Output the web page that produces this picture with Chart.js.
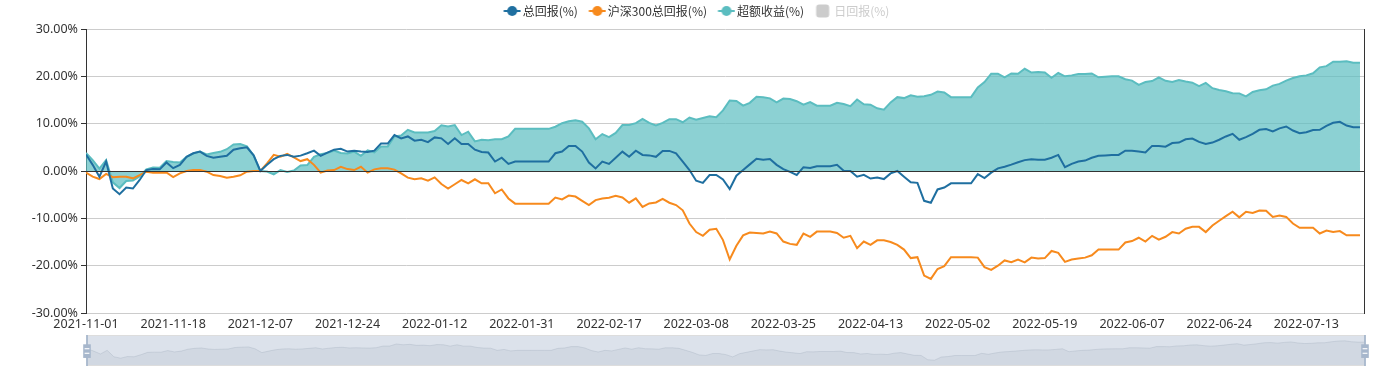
<!DOCTYPE html>
<html>
<head>
<meta charset="utf-8">
<title>总回报 / 沪深300 / 超额收益</title>
<script src="https://cdn.jsdelivr.net/npm/chart.js@4.4.1/dist/chart.umd.min.js"></script>
<style>
    html, body { margin: 0; padding: 0; background: #fff; }
    #wrap { position: relative; width: 1393px; height: 372px; overflow: hidden; }
    #main { position: absolute; left: 0; top: 0; width: 1393px; height: 336px; }
    #zoom { position: absolute; left: 80px; top: 333px; width: 1292px; height: 36px; }
</style>
</head>
<body>
<div id="wrap">
    <div id="main"><canvas id="mainChart"></canvas></div>
    <div id="zoom"><canvas id="zoomChart"></canvas></div>
</div>
<script>
// Date range: every weekday, holidays kept (values stay flat on them)
const startDate = '2021-11-01';
const endDate = '2022-07-25';
const labelEvery = 13;

// 总回报(%)
const totalReturn = [
    3.5, 1.3, -1.2, 2.0, -3.7, -4.9, -3.5, -3.7, -1.9, 0.2,
    0.4, 0.35, 1.8, 0.6, 1.3, 3.0, 3.75, 4.1, 3.2, 2.8,
    3.0, 3.2, 4.5, 4.8, 5.0, 3.3, 0.0, 1.3, 2.5, 3.2,
    3.4, 3.0, 3.25, 3.75, 4.3, 3.2, 3.9, 4.5, 4.7, 4.1,
    4.3, 4.1, 4.0, 4.3, 5.8, 5.8, 7.6, 6.9, 7.3, 6.4,
    6.6, 6.1, 7.1, 6.9, 5.7, 6.9, 5.7, 5.7, 4.5, 4.0,
    3.9, 2.0, 2.8, 1.5, 2.0, 2.0, 2.0, 2.0, 2.0, 2.0,
    3.75, 4.1, 5.3, 5.3, 4.1, 1.8, 0.55, 2.0, 1.5, 2.8,
    4.1, 3.0, 4.3, 3.4, 3.3, 3.0, 4.25, 4.25, 3.75, 2.0,
    0.2, -2.05, -2.5, -0.85, -0.85, -1.8, -3.8, -1.0, 0.2, 1.4,
    2.6, 2.4, 2.55, 1.3, 0.4, -0.2, -0.85, 0.8, 0.65, 1.0,
    1.0, 1.0, 1.3, 0.05, 0.0, -1.2, -0.8, -1.6, -1.4, -1.7,
    -0.5, 0.0, -1.2, -2.4, -2.5, -6.3, -6.7, -3.9, -3.5, -2.6,
    -2.6, -2.6, -2.6, -0.65, -1.5, -0.35, 0.55, 0.9, 1.35, 1.85,
    2.3, 2.5, 2.4, 2.4, 2.8, 3.4, 0.8, 1.5, 2.0, 2.2,
    2.8, 3.2, 3.3, 3.4, 3.4, 4.3, 4.3, 4.1, 3.9, 5.3,
    5.3, 5.15, 5.9, 6.0, 6.7, 6.85, 6.15, 5.7, 6.0, 6.6,
    7.3, 7.85, 6.6, 7.15, 7.85, 8.7, 8.85, 8.35, 9.0, 9.4,
    8.55, 8.0, 8.2, 8.65, 8.7, 9.55, 10.2, 10.4, 9.6, 9.25,
    9.25
];

// 沪深300总回报(%)
const hs300Return = [
    -0.35, -1.2, -1.7, -0.6, -1.3, -1.2, -1.2, -1.55, -0.85, -0.15,
    -0.35, -0.35, -0.3, -1.3, -0.5, 0.0, 0.2, 0.2, -0.15, -0.85,
    -1.05, -1.4, -1.2, -0.9, -0.15, 0.0, 0.0, 1.6, 3.4, 3.0,
    3.6, 2.9, 2.1, 2.5, 1.3, -0.35, 0.1, 0.2, 0.9, 0.4,
    0.2, 0.9, -0.35, 0.35, 0.6, 0.6, 0.3, -0.5, -1.4, -1.75,
    -1.55, -2.05, -1.35, -2.75, -3.7, -2.8, -1.9, -2.6, -1.75, -2.6,
    -2.6, -4.7, -3.9, -5.8, -6.9, -6.9, -6.9, -6.9, -6.9, -6.9,
    -5.6, -6.0, -5.2, -5.4, -6.3, -7.2, -6.15, -5.8, -5.65, -5.25,
    -5.6, -6.7, -5.8, -7.6, -6.85, -6.65, -5.9, -6.7, -7.2, -8.3,
    -11.1, -12.9, -13.7, -12.4, -12.2, -14.6, -18.7, -15.8, -13.6, -13.0,
    -13.1, -13.2, -12.8, -13.2, -14.9, -15.4, -15.6, -13.2, -13.9, -12.8,
    -12.8, -12.8, -13.1, -14.1, -13.7, -16.3, -14.9, -15.6, -14.65, -14.65,
    -15.0, -15.6, -16.6, -18.4, -18.2, -22.1, -22.8, -20.7, -20.1, -18.2,
    -18.2, -18.2, -18.2, -18.3, -20.3, -20.9, -20.0, -18.9, -19.25, -18.7,
    -19.3, -18.3, -18.5, -18.4, -16.9, -17.3, -19.2, -18.7, -18.5, -18.3,
    -17.8, -16.6, -16.6, -16.6, -16.6, -15.1, -14.8, -14.1, -14.9, -13.7,
    -14.5, -13.9, -12.9, -13.2, -12.2, -11.8, -11.8, -12.9, -11.5, -10.5,
    -9.55, -8.6, -9.8, -8.6, -8.85, -8.35, -8.4, -9.7, -9.4, -9.7,
    -11.1, -12.0, -12.0, -12.0, -13.2, -12.6, -12.9, -12.7, -13.6, -13.6,
    -13.6
];

// 超额收益(%)
const excessReturn = [
    3.8, 2.3, 0.5, 2.3, -2.4, -3.6, -2.1, -2.0, -1.15, 0.35,
    0.75, 0.7, 2.1, 1.9, 1.8, 3.0, 3.7, 4.1, 3.5, 3.8,
    4.05, 4.6, 5.6, 5.7, 5.2, 3.3, 0.0, -0.1, -0.7, 0.2,
    -0.2, 0.1, 1.15, 1.25, 3.0, 3.55, 3.8, 4.3, 3.8, 3.7,
    4.1, 3.2, 4.35, 3.95, 5.2, 5.2, 7.3, 7.5, 8.7, 8.15,
    8.15, 8.15, 8.45, 9.65, 9.4, 9.7, 7.6, 8.3, 6.25, 6.6,
    6.5, 6.7, 6.7, 7.3, 8.9, 8.9, 8.9, 8.9, 8.9, 8.9,
    9.35, 10.1, 10.5, 10.7, 10.4, 9.0, 6.7, 7.8, 7.15, 8.05,
    9.7, 9.7, 10.1, 11.0, 10.15, 9.65, 10.15, 10.95, 10.95, 10.3,
    11.3, 10.85, 11.2, 11.55, 11.35, 12.8, 14.9, 14.8, 13.8, 14.4,
    15.7, 15.6, 15.35, 14.5, 15.3, 15.2, 14.75, 14.0, 14.55, 13.8,
    13.8, 13.8, 14.4, 14.15, 13.7, 15.1, 14.1, 14.0, 13.25, 12.95,
    14.5, 15.6, 15.4, 16.0, 15.7, 15.8, 16.1, 16.8, 16.6, 15.6,
    15.6, 15.6, 15.6, 17.65, 18.8, 20.55, 20.55, 19.8, 20.6, 20.55,
    21.6, 20.8, 20.9, 20.8, 19.7, 20.7, 20.0, 20.2, 20.5, 20.5,
    20.6, 19.8, 19.9, 20.0, 20.0, 19.4, 19.1, 18.2, 18.8, 19.0,
    19.8, 19.05, 18.8, 19.2, 18.9, 18.65, 17.95, 18.6, 17.5, 17.1,
    16.85, 16.45, 16.4, 15.75, 16.7, 17.05, 17.25, 18.05, 18.4, 19.1,
    19.65, 20.0, 20.2, 20.65, 21.9, 22.15, 23.1, 23.1, 23.2, 22.85,
    22.85
];

// 日回报(%) is switched off in the legend, so nothing of it is drawn
const dailyReturn = [];

const yMin = -30;
const yMax = 30;
const yStep = 10;

const BLUE = '#1f6fa0';
const ORANGE = '#f78a1d';
const TEAL = '#5bbdc0';
const TEAL_FILL = 'rgba(91, 189, 192, 0.7)';
const AXIS = '#333';
const GRID = '#cccccc';
const FONT = "'Noto Sans', 'Noto Sans CJK SC', sans-serif";
const CJK_FONT = "'Noto Sans CJK SC', 'Noto Sans', sans-serif";

function weekdays(from, to) {
    const out = [];
    const d = new Date(from + 'T00:00:00Z');
    const end = new Date(to + 'T00:00:00Z');
    while (d <= end) {
        const wd = d.getUTCDay();
        if (wd !== 0 && wd !== 6) out.push(d.toISOString().slice(0, 10));
        d.setUTCDate(d.getUTCDate() + 1);
    }
    return out;
}

const dates = weekdays(startDate, endDate);
const toPoints = arr => arr.map((v, i) => ({ x: i, y: v }));

// legend icons like echarts: line with a dot, or a grey box when switched off.
// canvas is 28 wide, centred on the 19px legend box; the icon sits on its right side
function lineIcon(color) {
    const c = document.createElement('canvas');
    c.width = 28; c.height = 14;
    const g = c.getContext('2d');
    g.strokeStyle = color;
    g.lineWidth = 2;
    g.beginPath(); g.moveTo(10.5, 7); g.lineTo(27.5, 7); g.stroke();
    g.fillStyle = color;
    g.beginPath(); g.arc(19, 7, 5, 0, Math.PI * 2); g.fill();
    return c;
}

function boxIcon(color) {
    const c = document.createElement('canvas');
    c.width = 28; c.height = 14;
    const g = c.getContext('2d');
    g.fillStyle = color;
    g.beginPath();
    g.roundRect(11.5, 0.5, 13, 13, 3);
    g.fill();
    return c;
}

const legendIcons = [lineIcon(BLUE), lineIcon(ORANGE), lineIcon(TEAL), boxIcon('#cccccc')];

// fixed legend height so the plot starts where the original does
const legendHeight = {
    id: 'legendHeight',
    beforeInit(chart) {
        const fit = chart.legend.fit;
        chart.legend.fit = function () {
            fit.call(this);
            this.height = 29;
        };
    }
};

// axis line at zero sits above the filled area
const zeroLine = {
    id: 'zeroLine',
    afterDatasetsDraw(chart) {
        const { ctx, chartArea, scales } = chart;
        const y = Math.round(scales.y.getPixelForValue(0)) + 0.5;
        ctx.save();
        ctx.strokeStyle = AXIS;
        ctx.lineWidth = 1;
        ctx.beginPath();
        ctx.moveTo(chartArea.left, y);
        ctx.lineTo(chartArea.right, y);
        ctx.stroke();
        ctx.restore();
    }
};

new Chart(document.getElementById('mainChart'), {
    type: 'line',
    data: {
        datasets: [
            {
                label: '总回报(%)',
                data: toPoints(totalReturn),
                borderColor: BLUE,
                backgroundColor: BLUE,
                borderWidth: 2,
                pointRadius: 0,
                fill: false
            },
            {
                label: '沪深300总回报(%)',
                data: toPoints(hs300Return),
                borderColor: ORANGE,
                backgroundColor: ORANGE,
                borderWidth: 2,
                pointRadius: 0,
                fill: false
            },
            {
                label: '超额收益(%)',
                data: toPoints(excessReturn),
                borderColor: TEAL,
                backgroundColor: TEAL_FILL,
                borderWidth: 2,
                pointRadius: 0,
                fill: 'origin'
            },
            {
                label: '日回报(%)',
                type: 'bar',
                data: dailyReturn,
                backgroundColor: '#cccccc',
                hidden: true
            }
        ]
    },
    options: {
        responsive: true,
        maintainAspectRatio: false,
        animation: false,
        layout: { padding: { left: 0, right: 6, top: 0, bottom: 0 } },
        interaction: { mode: 'index', intersect: false },
        plugins: {
            legend: {
                position: 'top',
                onClick: () => {},
                labels: {
                    usePointStyle: true,
                    pointStyleWidth: 19,
                    boxHeight: 12,
                    padding: 5,
                    font: { family: CJK_FONT, size: 12 },
                    generateLabels: chart => chart.data.datasets.map((ds, i) => ({
                        text: ds.label,
                        datasetIndex: i,
                        hidden: false,
                        fontColor: ds.hidden ? '#cccccc' : AXIS,
                        pointStyle: legendIcons[i],
                        lineWidth: 0,
                        strokeStyle: 'transparent',
                        fillStyle: 'transparent'
                    }))
                }
            },
            tooltip: { enabled: true }
        },
        scales: {
            x: {
                type: 'linear',
                min: 0,
                max: dates.length - 1 + 0.6,
                offset: false,
                grid: { display: false, drawTicks: false },
                border: { display: false },
                ticks: {
                    stepSize: labelEvery,
                    autoSkip: false,
                    maxRotation: 0,
                    color: AXIS,
                    padding: 4,
                    font: { family: FONT, size: 12.5 },
                    callback: v => dates[v] || ''
                },
                afterBuildTicks: s => {
                    s.ticks = s.ticks.filter(t => Number.isInteger(t.value) && t.value % labelEvery === 0 && t.value < dates.length);
                }
            },
            y: {
                min: yMin,
                max: yMax,
                ticks: {
                    stepSize: yStep,
                    color: AXIS,
                    padding: 3,
                    font: { family: FONT, size: 12.5 },
                    callback: v => v.toFixed(2) + '%'
                },
                grid: {
                    color: c => (c.tick && c.tick.value === 0 ? AXIS : GRID),
                    tickColor: AXIS,
                    tickLength: 5
                },
                border: { color: AXIS },
                afterFit: s => { s.width = 86; }
            },
            y2: {
                position: 'right',
                min: yMin,
                max: yMax,
                ticks: { display: false },
                grid: { display: false, drawTicks: false },
                border: { color: AXIS },
                afterFit: s => { s.width = 23; }
            }
        }
    },
    plugins: [legendHeight, zeroLine]
});

// data-zoom strip under the chart: shadow of the 总回报 series
const spread = Math.max(...totalReturn) - Math.min(...totalReturn);
const shadowMin = Math.min(...totalReturn) - spread * 0.3;
const shadowMax = Math.max(...totalReturn) + spread * 0.3;

const sliderFrame = {
    id: 'sliderFrame',
    afterDatasetsDraw(chart) {
        const { ctx, chartArea: a } = chart;
        ctx.save();
        ctx.fillStyle = 'rgba(167, 183, 204, 0.4)';
        ctx.fillRect(a.left, a.top, a.right - a.left, a.bottom - a.top);
        ctx.strokeStyle = '#dddddd';
        ctx.lineWidth = 1;
        ctx.strokeRect(a.left + 0.5, a.top + 0.5, a.right - a.left - 1, a.bottom - a.top - 1);
        const h = a.bottom - a.top;
        [a.left, a.right].forEach(x => {
            ctx.fillStyle = '#a7b7cc';
            ctx.fillRect(x - 0.9, a.top, 1.8, h);
            ctx.fillRect(x - 3.8, a.top + h * 0.3, 7.6, h * 0.44);
            ctx.fillStyle = 'rgba(255, 255, 255, 0.85)';
            ctx.fillRect(x - 2.4, a.top + h * 0.42, 4.8, 1.3);
            ctx.fillRect(x - 2.4, a.top + h * 0.57, 4.8, 1.3);
        });
        ctx.restore();
    }
};

new Chart(document.getElementById('zoomChart'), {
    type: 'line',
    data: {
        datasets: [{
            data: toPoints(totalReturn),
            borderColor: 'rgba(47, 69, 84, 0.3)',
            borderWidth: 0.5,
            backgroundColor: 'rgba(47, 69, 84, 0.09)',
            fill: 'start',
            pointRadius: 0
        }]
    },
    options: {
        responsive: true,
        maintainAspectRatio: false,
        animation: false,
        events: [],
        layout: { padding: { left: 7, right: 7, top: 2, bottom: 3 } },
        plugins: { legend: { display: false }, tooltip: { enabled: false } },
        scales: {
            x: { type: 'linear', display: false, min: 0, max: dates.length - 1 },
            y: { display: false, min: shadowMin, max: shadowMax }
        }
    },
    plugins: [sliderFrame]
});
</script>
</body>
</html>
